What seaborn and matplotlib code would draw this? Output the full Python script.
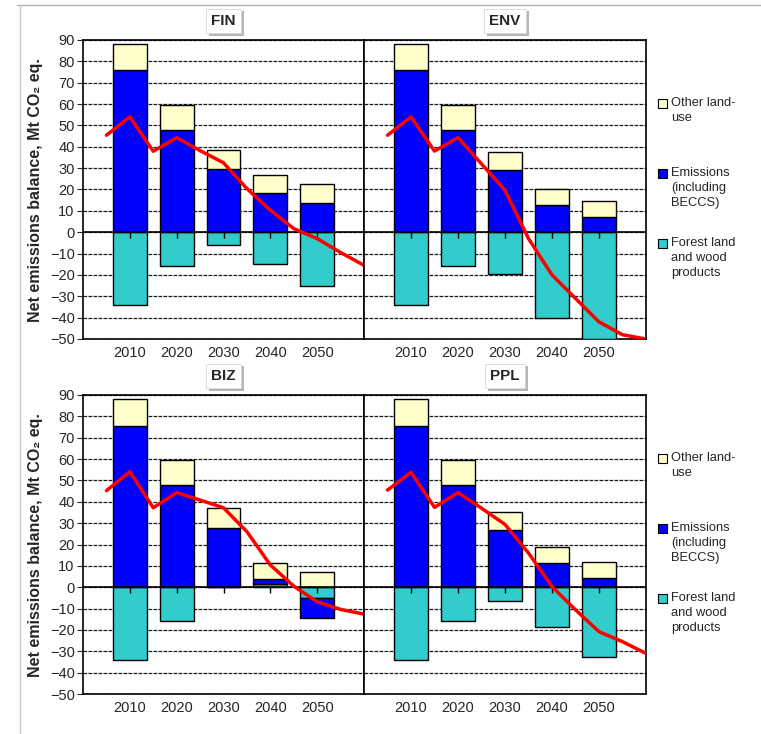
import matplotlib
matplotlib.use('Agg')
import matplotlib.pyplot as plt
import matplotlib.patheffects as pe
from matplotlib.patches import Rectangle
from matplotlib.lines import Line2D
import seaborn as sns
import numpy as np

years = [2010, 2020, 2030, 2040, 2050]
line_years = [2005, 2010, 2015, 2020, 2025, 2030, 2035, 2040, 2045, 2050, 2055, 2060]

# bar segments, Mt CO2 eq.
forest_fin = [-34.3, -15.8, -6.0, -14.9, -25.3]
emis_fin = [76.0, 48.0, 29.8, 18.3, 13.5]
other_fin = [12.0, 11.7, 8.9, 8.4, 9.0]
net_fin = [45.4, 54.0, 37.9, 44.3, 38.2, 32.5, 20.4, 10.3, 1.7, -3.0, -9.5, -15.5]

forest_env = [-34.3, -15.8, -19.4, -40.4, -50.0]
emis_env = [76.0, 47.8, 29.3, 12.6, 7.0]
other_env = [12.0, 11.9, 8.2, 7.5, 7.7]
net_env = [45.4, 54.0, 38.0, 44.3, 32.0, 19.7, -3.0, -20.0, -31.0, -42.0, -48.0, -50.0]

forest_biz = [-34.2, -15.6, 0.0, 1.6, -5.2]
emis_biz = [75.7, 47.8, 27.9, 2.1, -9.1]
other_biz = [12.3, 11.7, 9.0, 7.8, 7.3]
net_biz = [45.2, 54.1, 37.2, 44.3, 40.8, 37.2, 26.0, 10.4, 0.5, -6.8, -10.4, -12.6]

forest_ppl = [-34.2, -15.6, -6.5, -18.5, -32.8]
emis_ppl = [75.7, 47.8, 27.0, 11.2, 4.2]
other_ppl = [12.3, 11.7, 8.3, 7.8, 7.8]
net_ppl = [45.5, 53.8, 37.4, 44.3, 37.0, 29.4, 16.0, 0.3, -10.6, -20.8, -25.5, -31.0]

series_names = ['Other land-\nuse', 'Emissions\n(including\nBECCS)', 'Forest land\nand wood\nproducts']
colors = {'forest': '#33CCCC', 'emis': '#0000FF', 'other': '#FFFFCC'}

sns.set_style('white')
plt.rcParams['font.family'] = ['Liberation Sans', 'DejaVu Sans']

W, H = 761, 734
fig = plt.figure(figsize=(W / 100, H / 100), dpi=100)


def box(x0, y0, x1, y1):
    # pixel box -> figure fraction
    return [x0 / W, 1 - y1 / H, (x1 - x0) / W, (y1 - y0) / H]


panels = [
    ('FIN', forest_fin, emis_fin, other_fin, net_fin, box(83, 40, 364, 339), True),
    ('ENV', forest_env, emis_env, other_env, net_env, box(364, 40, 646, 339), False),
    ('BIZ', forest_biz, emis_biz, other_biz, net_biz, box(83, 395, 364, 694), True),
    ('PPL', forest_ppl, emis_ppl, other_ppl, net_ppl, box(364, 395, 646, 694), False),
]

for name, forest, emis, other, net, rect, left in panels:
    ax = fig.add_axes(rect)
    ax.set_facecolor('white')

    # stack positives upward and negatives downward, in series order
    pos_b = np.zeros(len(years))
    neg_b = np.zeros(len(years))
    for vals, key in [(forest, 'forest'), (emis, 'emis'), (other, 'other')]:
        vals = np.array(vals, dtype=float)
        bottom = np.where(vals >= 0, pos_b, neg_b)
        sns.barplot(x=years, y=vals, bottom=bottom, native_scale=True, width=0.72,
                    color=colors[key], saturation=1, edgecolor='black', linewidth=1,
                    errorbar=None, ax=ax, zorder=3)
        pos_b += np.where(vals >= 0, vals, 0)
        neg_b += np.where(vals < 0, vals, 0)

    ax.axhline(0, color='black', linewidth=1.2, zorder=4)
    ax.plot(years, [0] * len(years), linestyle='none', marker=3, markersize=4,
            markeredgewidth=1, color='black', zorder=6)

    sns.lineplot(x=line_years, y=net, color='#FF0000', linewidth=2.5, ax=ax, zorder=7)

    ax.set_xlim(2000, 2060)
    ax.set_ylim(-50, 90)
    ax.set_yticks(range(-50, 91, 10))
    ax.set_xticks(years)
    ax.set_xticklabels([str(y) for y in years], fontsize=10.5)
    ax.tick_params(axis='x', length=0, pad=5)
    ax.yaxis.grid(True, color='#1a1a1a', linestyle=(0, (3, 1)), linewidth=0.9)
    ax.set_axisbelow(True)
    ax.set_xlabel('')
    ax.set_ylabel('')
    if left:
        ax.tick_params(axis='y', labelsize=10.5, length=4, width=0.8, direction='out', left=True, pad=2)
    else:
        ax.tick_params(axis='y', length=0, labelleft=False)
    for sp in ax.spines.values():
        sp.set_visible(True)
        sp.set_color('black')
        sp.set_linewidth(1.2)

    # title in a small shadowed box
    cx = (rect[0] + rect[2] / 2)
    ty = rect[1] + rect[3] + 19 / H
    t = fig.text(cx, ty, name, ha='center', va='center', fontsize=11, fontweight='bold',
                 bbox=dict(boxstyle='square,pad=0.35', fc='white', ec='#d8d8d8', lw=0.6))
    t.get_bbox_patch().set_path_effects([
        pe.withSimplePatchShadow(offset=(2, -2), shadow_rgbFace='#888888', alpha=0.6)])

# y labels
for yc in [190, 545]:
    fig.text(36 / W, 1 - yc / H, 'Net emissions balance, Mt CO₂ eq.', rotation=90,
             ha='center', va='center', fontsize=11.5, fontweight='bold')

# legends beside the right panels
legend_colors = [colors['other'], colors['emis'], colors['forest']]
for off in [0, 355]:
    for i, (lab, col) in enumerate(zip(series_names, legend_colors)):
        top = 99 + off + i * 70
        fig.add_artist(Rectangle((658 / W, 1 - (top + 9) / H), 9 / W, 9 / H,
                                 transform=fig.transFigure, fc=col, ec='black', lw=0.8))
        fig.text(671 / W, 1 - (top - 2) / H, lab, ha='left', va='top', fontsize=9.3,
                 linespacing=1.35)

# sheet frame
fig.add_artist(Line2D([17 / W, 1], [1 - 5 / H, 1 - 5 / H], transform=fig.transFigure,
                      color='#b0b0b0', lw=1))
fig.add_artist(Line2D([20 / W, 20 / W], [0, 1 - 5 / H], transform=fig.transFigure,
                      color='#c8c8c8', lw=1))

fig.savefig('out.png', dpi=100)
